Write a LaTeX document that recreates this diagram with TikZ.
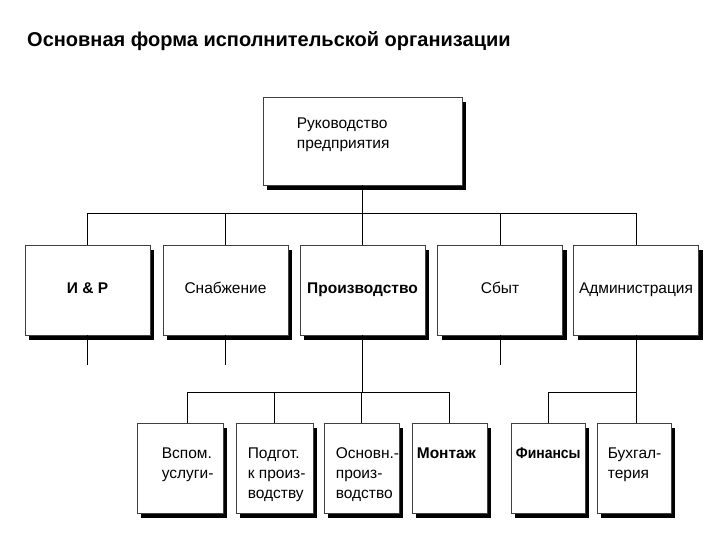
\documentclass[tikz,border=0pt]{standalone}
\usepackage{fontspec}
\setmainfont{Liberation Sans}
\usetikzlibrary{shadows}

\begin{document}
\begin{tikzpicture}[x=1pt,y=1pt]
\tikzstyle{block} = [draw=black!75, line width=0.7pt, fill=white, rectangle, inner sep=0pt, drop shadow={shadow xshift=4pt, shadow yshift=-5pt, fill=black, opacity=1}]
\tikzstyle{mid} = [block, minimum width=125pt, minimum height=90pt, text height=11pt, text depth=3pt, font=\fontsize{15.5}{20}\selectfont]
\tikzstyle{low} = [block, minimum height=90pt]
\tikzstyle{txt} = [inner sep=0pt, align=left, anchor=north west, font=\fontsize{15.5}{20}\selectfont]
\tikzstyle{heavy} = [font=\fontsize{15.5}{20}\selectfont\bfseries]
\tikzstyle{wire} = [line width=1pt]

\useasboundingbox (0,0) rectangle (720,540);

\node[inner sep=0pt, anchor=base west, font=\fontsize{20}{24}\selectfont\bfseries] (title) at (27,493) {Основная форма исполнительской организации};

% top
\node[block, minimum width=199pt, minimum height=88pt] (head) at (362.5,399) {};
\node[txt] (head_txt) at ([shift={(34,-21)}]head.north west) {Руководство\\предприятия};

% departments
\node[mid, heavy] (r_and_d) at (87.5,250) {И \& Р};
\node[mid] (supply) at (225.5,250) {Снабжение};
\node[mid, heavy] (production) at (362.5,250) {Производство};
\node[mid] (sales) at (500,250) {Сбыт};
\node[mid] (admin) at (636,250) {Администрация};

% sub-units
\node[low, minimum width=86pt] (aux) at (180,72) {};
\node[low, minimum width=77pt] (prep) at (274.5,72) {};
\node[low, minimum width=75pt] (main_prod) at (361.5,72) {};
\node[low, minimum width=75pt] (assembly) at (449.5,72) {};
\node[low, minimum width=74pt] (finance) at (548,72) {};
\node[low, minimum width=74pt] (accounting) at (634,72) {};

\node[txt] (aux_txt) at ([shift={(25,-25)}]aux.north west) {Вспом.\\услуги-};
\node[txt] (prep_txt) at ([shift={(12,-25)}]prep.north west) {Подгот.\\к произ-\\водству};
\node[txt] (main_txt) at ([shift={(12,-25)}]main_prod.north west) {Основн.-\\произ-\\водство};
\node[txt, heavy] (assembly_txt) at ([shift={(5,-25)}]assembly.north west) {Монтаж};
\node[txt, heavy] (finance_txt) at ([shift={(5,-25)}]finance.north west) {\scalebox{0.9}[1]{Финансы}};
\node[txt] (accounting_txt) at ([shift={(11,-25)}]accounting.north west) {Бухгал-\\терия};

\coordinate (bus_top) at (0,326);
\coordinate (stub_end) at (0,175);
\coordinate (bus_low) at (0,147);

% connections
\draw[wire] (head.south) -- (head.south |- bus_top);
\draw[wire] (r_and_d.north) |- (admin.north |- bus_top) -- (admin.north);
\foreach \n in {supply, production, sales}
  \draw[wire] (\n.north) -- (\n.north |- bus_top);
\foreach \n in {r_and_d, supply, sales}
  \draw[wire] (\n.south) -- (\n.south |- stub_end);
\draw[wire] (production.south) -- (production.south |- bus_low);
\draw[wire] ([xshift=7pt]aux.north) |- (assembly.north |- bus_low) -- (assembly.north);
\foreach \n in {prep, main_prod}
  \draw[wire] (\n.north) -- (\n.north |- bus_low);
\draw[wire] (admin.south) -- (admin.south |- accounting.north);
\draw[wire] (finance.north) |- (admin.south |- bus_low);

\end{tikzpicture}
\end{document}
